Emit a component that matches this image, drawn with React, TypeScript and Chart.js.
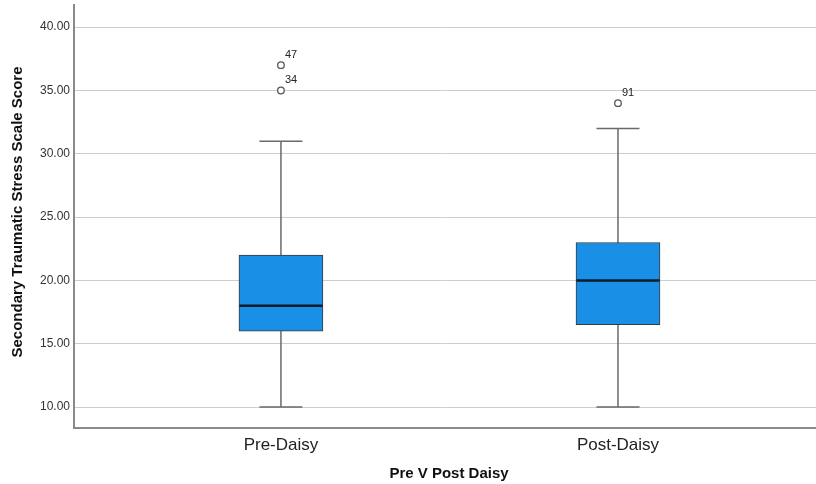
import React, { useEffect, useRef } from "react";
import { Chart, registerables } from "chart.js";

Chart.register(...registerables);

const categories = ["Pre-Daisy", "Post-Daisy"];
const q1Values = [16, 16.5];
const medianValues = [18, 20];
const q3Values = [22, 23];
const whiskerLow = [10, 10];
const whiskerHigh = [31, 32];
const outlierGroups = [1, 1, 2];
const outlierValues = [37, 35, 34];
const outlierLabels = ["47", "34", "91"];
const yTicks = [10, 15, 20, 25, 30, 35, 40];
const yTitle = "Secondary Traumatic Stress Scale Score";
const xTitle = "Pre V Post Daisy";

const FONT = "'Liberation Sans', Arial, sans-serif";

export default function App() {
  const ref = useRef<HTMLCanvasElement | null>(null);

  useEffect(() => {
    document.body.style.margin = "0";
    const canvas = ref.current;
    if (!canvas) return;

    const boxPlugin = {
      id: "boxParts",
      beforeDatasetsDraw(chart: any) {
        const ctx = chart.ctx;
        const xs = chart.scales.x;
        const ys = chart.scales.y;
        ctx.save();
        ctx.strokeStyle = "#6a6a6a";
        ctx.lineWidth = 1.5;
        categories.forEach((_, i) => {
          const cx = xs.getPixelForValue(i + 1);
          const yl = ys.getPixelForValue(whiskerLow[i]);
          const yh = ys.getPixelForValue(whiskerHigh[i]);
          const capHalf = 21.5;
          ctx.beginPath();
          ctx.moveTo(cx, yl);
          ctx.lineTo(cx, yh);
          ctx.moveTo(cx - capHalf, yl);
          ctx.lineTo(cx + capHalf, yl);
          ctx.moveTo(cx - capHalf, yh);
          ctx.lineTo(cx + capHalf, yh);
          ctx.stroke();
        });
        ctx.restore();
      },
      afterDatasetsDraw(chart: any) {
        const ctx = chart.ctx;
        const xs = chart.scales.x;
        const ys = chart.scales.y;
        ctx.save();
        ctx.strokeStyle = "#0d1a2a";
        ctx.lineWidth = 2.5;
        categories.forEach((_, i) => {
          const cx = xs.getPixelForValue(i + 1);
          const ym = ys.getPixelForValue(medianValues[i]);
          ctx.beginPath();
          ctx.moveTo(cx - 41.5, ym);
          ctx.lineTo(cx + 41.5, ym);
          ctx.stroke();
        });
        ctx.fillStyle = "#222";
        ctx.font = "11px " + FONT;
        ctx.textAlign = "left";
        ctx.textBaseline = "middle";
        outlierValues.forEach((v, i) => {
          const px = xs.getPixelForValue(outlierGroups[i]);
          const py = ys.getPixelForValue(v);
          ctx.fillText(outlierLabels[i], px + 4, py - 10.5);
        });
        ctx.restore();
      },
      afterDraw(chart: any) {
        const ctx = chart.ctx;
        ctx.save();
        ctx.fillStyle = "#111";
        ctx.font = "bold 15px " + FONT;
        ctx.textAlign = "center";
        ctx.textBaseline = "middle";
        ctx.fillText(xTitle, 449, 474);
        ctx.translate(18, 212);
        ctx.rotate(-Math.PI / 2);
        ctx.fillText(yTitle, 0, 0);
        ctx.restore();
      },
    };

    const chart = new Chart(canvas, {
      type: "bar",
      data: {
        datasets: [
          {
            type: "bar",
            data: categories.map((_, i) => ({ x: i + 1, y: [q1Values[i], q3Values[i]] })) as any,
            backgroundColor: "#1a8fe6",
            borderColor: "#3a3a3a",
            borderWidth: 1,
            borderSkipped: false,
            barThickness: 84,
          } as any,
          {
            type: "scatter",
            data: outlierValues.map((v, i) => ({ x: outlierGroups[i], y: v })),
            pointRadius: 3.3,
            pointBackgroundColor: "#ffffff",
            pointBorderColor: "#555555",
            pointBorderWidth: 1.3,
            showLine: false,
          } as any,
        ],
      },
      options: {
        animation: false,
        responsive: false,
        maintainAspectRatio: false,
        layout: { autoPadding: false, padding: { top: 5, right: 0, left: 0, bottom: 0 } },
        plugins: {
          legend: { display: false },
          tooltip: { enabled: false },
        },
        scales: {
          x: {
            type: "linear",
            offset: false,
            min: 0.386,
            max: 2.5875,
            afterBuildTicks: (axis: any) => {
              axis.ticks = categories.map((_, i) => ({ value: i + 1 }));
            },
            afterFit: (axis: any) => {
              axis.height = 56;
              axis.paddingLeft = 0;
              axis.paddingRight = 0;
            },
            ticks: {
              autoSkip: false,
              maxRotation: 0,
              padding: 7,
              color: "#222",
              font: { family: FONT, size: 17 },
              callback: (v: any) => categories[Math.round(Number(v)) - 1] ?? "",
            },
            grid: { display: false, drawTicks: false, offset: false },
            border: { display: true, color: "#8a8a8a", width: 2 },
          },
          y: {
            type: "linear",
            min: 8.35,
            max: 41.75,
            afterBuildTicks: (axis: any) => {
              axis.ticks = yTicks.map((v) => ({ value: v }));
            },
            afterFit: (axis: any) => {
              axis.width = 74;
              axis.paddingTop = 0;
              axis.paddingBottom = 0;
            },
            ticks: {
              padding: 4,
              color: "#333",
              font: { family: FONT, size: 12 },
              callback: (v: any) => Number(v).toFixed(2),
            },
            grid: { color: "#cdcdcd", lineWidth: 1, drawTicks: false },
            border: { display: true, color: "#8a8a8a", width: 2 },
          },
        },
      },
      plugins: [boxPlugin],
    });

    return () => chart.destroy();
  }, []);

  return (
    <div style={{ width: 816, height: 484, background: "#fff" }}>
      <canvas ref={ref} width={816} height={484} style={{ display: "block" }} />
    </div>
  );
}
